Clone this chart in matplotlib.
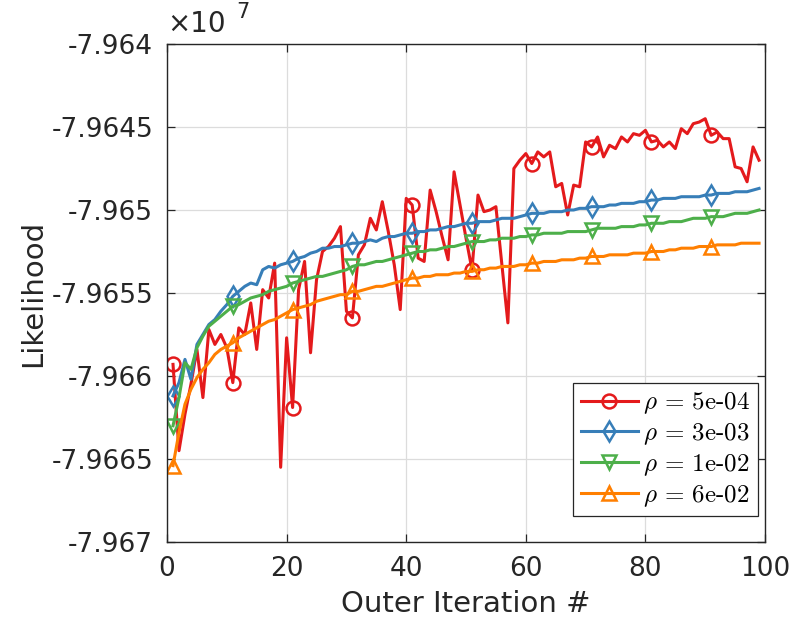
import numpy as np
import matplotlib
matplotlib.use("Agg")
import matplotlib.pyplot as plt

plt.rcParams['font.family'] = ['DejaVu Sans']
plt.rcParams['mathtext.fontset'] = 'cm'

# outer iterations 1..99, likelihood in units of 1e7
iters = np.arange(1, 100)

lik_5e4 = [-7.96593, -7.96645, -7.96623, -7.96605, -7.96584, -7.96613, -7.96572, -7.96581, -7.96575, -7.96583,
           -7.96604, -7.96571, -7.96575, -7.96556, -7.96584, -7.96548, -7.96553, -7.96532, -7.96655, -7.96577,
           -7.96619, -7.96548, -7.96531, -7.96586, -7.96542, -7.96525, -7.96522, -7.96517, -7.96510, -7.96561,
           -7.96565, -7.96527, -7.96521, -7.96505, -7.96512, -7.96495, -7.96513, -7.96533, -7.96560, -7.96493,
           -7.96497, -7.96529, -7.96531, -7.96488, -7.96501, -7.96516, -7.96530, -7.96477, -7.96497, -7.96517,
           -7.96536, -7.96491, -7.96501, -7.96500, -7.96498, -7.96533, -7.96568, -7.96475, -7.96470, -7.96466,
           -7.96472, -7.96465, -7.96468, -7.96465, -7.96486, -7.96484, -7.96503, -7.96485, -7.96486, -7.96459,
           -7.96462, -7.96456, -7.96468, -7.96461, -7.96463, -7.96456, -7.96459, -7.96454, -7.96455, -7.96452,
           -7.96459, -7.96458, -7.96462, -7.96459, -7.96463, -7.96451, -7.96454, -7.96448, -7.96447, -7.96445,
           -7.96455, -7.96453, -7.96457, -7.96457, -7.96474, -7.96475, -7.96483, -7.96462, -7.96470]

lik_3e3 = [-7.96612, -7.96604, -7.96590, -7.96602, -7.96581, -7.96575, -7.96569, -7.96566, -7.96561, -7.96557,
           -7.96552, -7.96549, -7.96546, -7.96544, -7.96545, -7.96536, -7.96534, -7.96535, -7.96533, -7.96532,
           -7.96531, -7.96529, -7.96528, -7.96526, -7.96525, -7.96523, -7.96523, -7.96522, -7.96522, -7.96521,
           -7.96520, -7.96520, -7.96519, -7.96518, -7.96519, -7.96517, -7.96516, -7.96516, -7.96515, -7.96514,
           -7.96514, -7.96513, -7.96513, -7.96512, -7.96512, -7.96511, -7.96510, -7.96510, -7.96509, -7.96508,
           -7.96508, -7.96507, -7.96507, -7.96507, -7.96506, -7.96505, -7.96505, -7.96505, -7.96504, -7.96503,
           -7.96502, -7.96502, -7.96502, -7.96501, -7.96501, -7.96501, -7.96500, -7.96500, -7.96499, -7.96499,
           -7.96498, -7.96498, -7.96498, -7.96497, -7.96497, -7.96496, -7.96496, -7.96496, -7.96495, -7.96495,
           -7.96494, -7.96494, -7.96493, -7.96493, -7.96493, -7.96492, -7.96492, -7.96492, -7.96492, -7.96491,
           -7.96491, -7.96490, -7.96490, -7.96490, -7.96489, -7.96489, -7.96489, -7.96488, -7.96487]

lik_1e2 = [-7.96630, -7.96613, -7.96592, -7.96596, -7.96583, -7.96576, -7.96570, -7.96567, -7.96564, -7.96561,
           -7.96558, -7.96557, -7.96555, -7.96553, -7.96552, -7.96551, -7.96549, -7.96548, -7.96547, -7.96546,
           -7.96544, -7.96543, -7.96542, -7.96541, -7.96540, -7.96540, -7.96539, -7.96538, -7.96537, -7.96536,
           -7.96534, -7.96533, -7.96533, -7.96532, -7.96531, -7.96531, -7.96530, -7.96529, -7.96528, -7.96527,
           -7.96526, -7.96525, -7.96525, -7.96524, -7.96524, -7.96523, -7.96522, -7.96522, -7.96521, -7.96520,
           -7.96519, -7.96519, -7.96519, -7.96518, -7.96518, -7.96517, -7.96517, -7.96517, -7.96516, -7.96516,
           -7.96515, -7.96515, -7.96514, -7.96514, -7.96514, -7.96514, -7.96513, -7.96513, -7.96513, -7.96513,
           -7.96512, -7.96511, -7.96511, -7.96511, -7.96511, -7.96510, -7.96510, -7.96510, -7.96509, -7.96509,
           -7.96508, -7.96508, -7.96508, -7.96507, -7.96507, -7.96507, -7.96506, -7.96505, -7.96505, -7.96505,
           -7.96504, -7.96504, -7.96504, -7.96503, -7.96502, -7.96502, -7.96502, -7.96501, -7.96500]

lik_6e2 = [-7.96654, -7.96634, -7.96617, -7.96608, -7.96601, -7.96596, -7.96592, -7.96587, -7.96584, -7.96582,
           -7.96580, -7.96577, -7.96575, -7.96573, -7.96571, -7.96569, -7.96567, -7.96566, -7.96564, -7.96562,
           -7.96560, -7.96559, -7.96558, -7.96557, -7.96555, -7.96554, -7.96553, -7.96552, -7.96551, -7.96551,
           -7.96549, -7.96549, -7.96548, -7.96547, -7.96546, -7.96546, -7.96545, -7.96544, -7.96543, -7.96542,
           -7.96541, -7.96541, -7.96540, -7.96540, -7.96539, -7.96539, -7.96539, -7.96538, -7.96538, -7.96537,
           -7.96537, -7.96536, -7.96536, -7.96535, -7.96535, -7.96534, -7.96534, -7.96534, -7.96533, -7.96533,
           -7.96532, -7.96532, -7.96531, -7.96531, -7.96531, -7.96530, -7.96530, -7.96530, -7.96529, -7.96529,
           -7.96528, -7.96528, -7.96528, -7.96527, -7.96527, -7.96527, -7.96527, -7.96526, -7.96526, -7.96526,
           -7.96525, -7.96525, -7.96525, -7.96524, -7.96524, -7.96523, -7.96523, -7.96523, -7.96522, -7.96522,
           -7.96522, -7.96521, -7.96521, -7.96521, -7.96521, -7.96520, -7.96520, -7.96520, -7.96520]

labels = [r'$\rho$ = 5e-04', r'$\rho$ = 3e-03', r'$\rho$ = 1e-02', r'$\rho$ = 6e-02']
series = [lik_5e4, lik_3e3, lik_1e2, lik_6e2]
colors = ['#e41a1c', '#377eb8', '#4daf4a', '#ff7f00']
markers = ['o', 'd', 'v', '^']

yticks = [-7.964, -7.9645, -7.965, -7.9655, -7.966, -7.9665, -7.967]
ytick_labels = ['-7.964', '-7.9645', '-7.965', '-7.9655', '-7.966', '-7.9665', '-7.967']
xticks = [0, 20, 40, 60, 80, 100]

fig = plt.figure(figsize=(7.89, 6.27), dpi=100)
ax = fig.add_axes([0.2117, 0.1356, 0.7579, 0.7942])

for vals, lab, c, m in zip(series, labels, colors, markers):
    ax.plot(iters, vals, color=c, lw=2.2, marker=m, markevery=10, ms=10,
            mfc='none', mec=c, mew=1.8, label=lab)

ax.set_xlim(0, 100)
ax.set_ylim(-7.967, -7.964)
ax.set_xticks(xticks)
ax.set_yticks(yticks)
ax.set_yticklabels(ytick_labels)
ax.grid(True, color='#dcdcdc', lw=0.9)
ax.set_axisbelow(True)
ax.tick_params(direction='in', top=True, right=True, length=6, width=0.9,
               labelsize=19, colors='#262626', pad=10)
for sp in ax.spines.values():
    sp.set_color('#262626')
    sp.set_linewidth(1.0)

ax.set_xlabel('Outer Iteration #', fontsize=21, color='#262626', labelpad=6)
ax.set_ylabel('Likelihood', fontsize=21, color='#262626', labelpad=3)

ax.text(0.0, 1.012, '×10', transform=ax.transAxes, fontsize=20, color='#262626',
        ha='left', va='bottom')
ax.text(0.115, 1.045, '7', transform=ax.transAxes, fontsize=15, color='#262626',
        ha='left', va='bottom')

leg = ax.legend(loc='lower right', bbox_to_anchor=(0.988, 0.052), borderaxespad=0,
                prop={'family': 'cmr10', 'size': 18}, handlelength=2.3,
                handletextpad=0.2, labelspacing=0.2, borderpad=0.3,
                fancybox=False, framealpha=1, edgecolor='#262626')
leg.get_frame().set_linewidth(0.9)

fig.savefig('out.png', dpi=100)
